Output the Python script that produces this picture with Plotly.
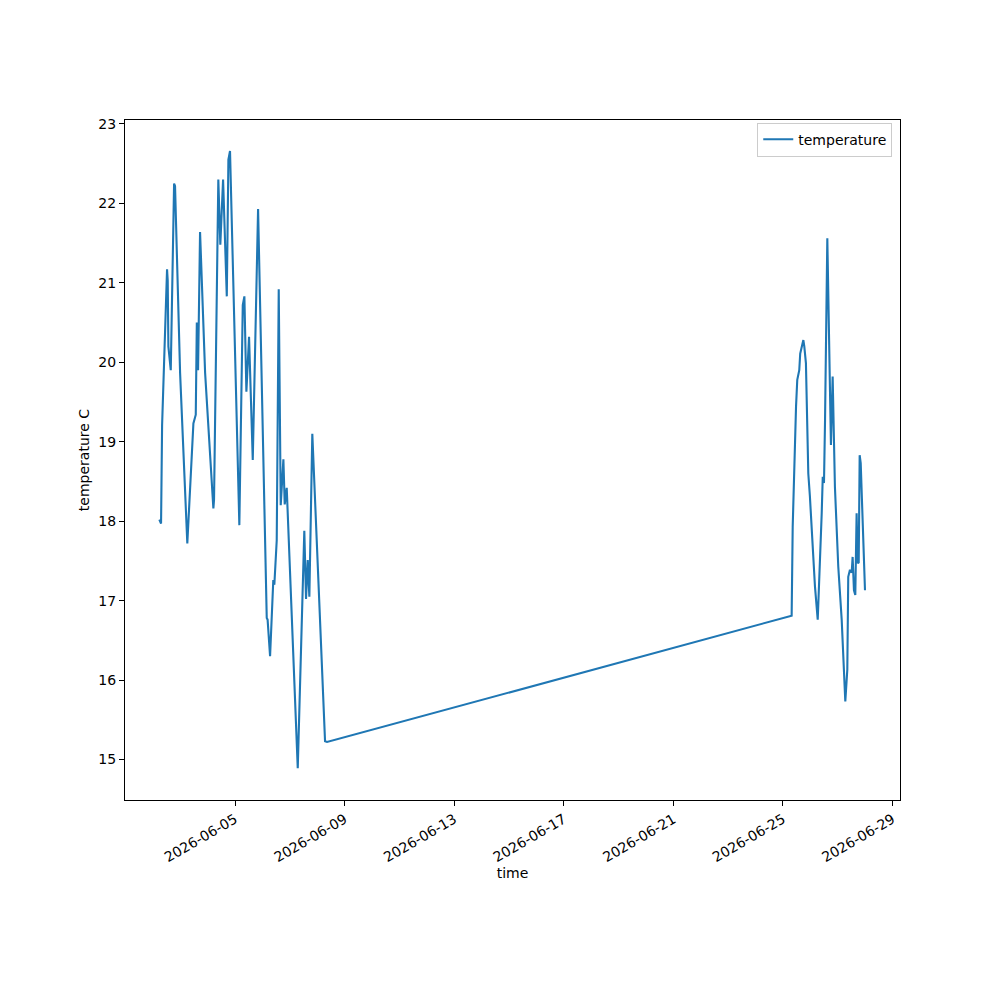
import plotly.graph_objects as go

# readings (local time) and temperature in C
times = [
    "2026-06-02 05:40", "2026-06-02 07:10", "2026-06-02 08:05", "2026-06-02 09:50",
    "2026-06-02 12:25", "2026-06-02 13:00", "2026-06-02 13:35", "2026-06-02 15:40",
    "2026-06-02 18:35", "2026-06-02 19:25", "2026-06-02 23:50", "2026-06-03 06:10",
    "2026-06-03 11:30", "2026-06-03 13:35", "2026-06-03 14:30", "2026-06-03 15:35",
    "2026-06-03 17:20", "2026-06-03 21:45", "2026-06-04 05:00", "2026-06-04 05:35",
    "2026-06-04 09:20", "2026-06-04 11:05", "2026-06-04 13:30", "2026-06-04 16:45",
    "2026-06-04 18:10", "2026-06-04 19:35", "2026-06-05 03:45", "2026-06-05 06:45",
    "2026-06-05 08:10", "2026-06-05 09:55", "2026-06-05 12:15", "2026-06-05 15:30",
    "2026-06-05 20:10", "2026-06-06 03:45", "2026-06-06 04:30", "2026-06-06 06:40",
    "2026-06-06 09:30", "2026-06-06 10:25", "2026-06-06 12:30", "2026-06-06 14:15",
    "2026-06-06 16:00", "2026-06-06 18:20", "2026-06-06 19:30", "2026-06-06 21:15",
    "2026-06-07 06:55", "2026-06-07 12:40", "2026-06-07 14:10", "2026-06-07 15:40",
    "2026-06-07 17:05", "2026-06-07 19:40", "2026-06-08 06:50", "2026-06-08 08:35",
    "2026-06-25 07:35", "2026-06-25 08:30", "2026-06-25 09:40", "2026-06-25 11:25",
    "2026-06-25 12:30", "2026-06-25 14:15", "2026-06-25 15:05", "2026-06-25 16:35",
    "2026-06-25 17:50", "2026-06-25 18:40", "2026-06-25 20:05", "2026-06-25 22:10",
    "2026-06-25 23:35", "2026-06-26 04:00", "2026-06-26 06:25", "2026-06-26 09:55",
    "2026-06-26 10:50", "2026-06-26 11:55", "2026-06-26 12:50", "2026-06-26 14:50",
    "2026-06-26 17:10", "2026-06-26 18:00", "2026-06-26 19:30", "2026-06-26 21:30",
    "2026-06-27 00:25", "2026-06-27 03:25", "2026-06-27 06:35", "2026-06-27 08:20",
    "2026-06-27 09:10", "2026-06-27 10:40", "2026-06-27 12:10", "2026-06-27 13:00",
    "2026-06-27 14:10", "2026-06-27 15:20", "2026-06-27 16:30", "2026-06-27 17:25",
    "2026-06-27 18:20", "2026-06-27 19:10", "2026-06-27 20:05", "2026-06-27 23:50",
]
temperature = [
    18.02, 17.97, 19.21, 20.12,
    21.17, 21.03, 20.20, 19.90,
    22.25, 22.22, 19.87, 17.72,
    19.23, 19.34, 20.50, 19.90,
    21.64, 19.87, 18.16, 18.27,
    22.30, 21.48, 22.30, 20.83,
    22.55, 22.66, 17.95, 20.72,
    20.83, 19.63, 20.32, 18.77,
    21.93, 16.78, 16.76, 16.30,
    17.26, 17.20, 17.76, 20.92,
    18.20, 18.78, 18.21, 18.42,
    14.89, 17.88, 17.02, 17.51,
    17.05, 19.10, 15.23, 15.22,
    16.81, 17.93, 18.60, 19.44,
    19.78, 19.90, 20.11, 20.20,
    20.28, 20.20, 19.99, 18.60,
    18.31, 17.18, 16.76, 18.10,
    18.56, 18.48, 19.27, 21.56,
    19.61, 18.96, 19.82, 18.43,
    17.43, 16.76, 15.73, 16.13,
    17.30, 17.39, 17.35, 17.55,
    17.13, 17.07, 18.10, 17.47,
    17.48, 18.83, 18.73, 17.13,
]
xticks = ["2026-06-05", "2026-06-09", "2026-06-13", "2026-06-17",
          "2026-06-21", "2026-06-25", "2026-06-29"]
yticks = [15, 16, 17, 18, 19, 20, 21, 22, 23]

fig = go.Figure()
fig.add_trace(go.Scatter(
    x=times, y=temperature, mode="lines", name="temperature",
    line=dict(color="#1f77b4", width=2.1),
))

# the page body adds an 8px offset, so margins are trimmed on the left/top
fig.update_layout(
    width=1000, height=1000,
    margin=dict(l=117, r=108, t=112, b=208),
    paper_bgcolor="white", plot_bgcolor="white",
    font=dict(family="DejaVu Sans", size=14, color="black"),
    showlegend=True,
    legend=dict(x=0.99, y=0.996, xanchor="right", yanchor="top",
                bordercolor="#cccccc", borderwidth=1, bgcolor="white",
                font=dict(size=14)),
)
fig.update_xaxes(
    range=["2026-05-31 23:35", "2026-06-29 06:30"],
    tickvals=xticks, ticktext=xticks, tickangle=-30,
    showline=True, linecolor="black", linewidth=1.1, mirror=True,
    ticks="outside", ticklen=5, tickwidth=1.1, tickcolor="black",
    showgrid=False, zeroline=False,
    title=dict(text="time", standoff=4, font=dict(size=14)),
)
fig.update_yaxes(
    range=[14.49, 23.05], tickvals=yticks,
    showline=True, linecolor="black", linewidth=1.1, mirror=True,
    ticks="outside", ticklen=5, tickwidth=1.1, tickcolor="black",
    showgrid=False, zeroline=False,
    title=dict(text="temperature C", standoff=5, font=dict(size=14)),
)

fig.write_html("out.html")
